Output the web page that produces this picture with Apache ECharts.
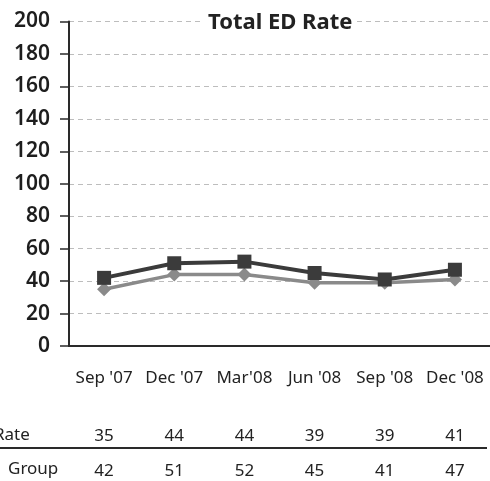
<!DOCTYPE html>
<html>
<head>
<meta charset="utf-8">
<script src="https://cdn.jsdelivr.net/npm/echarts@6/dist/echarts.min.js"></script>
<style>
  html, body { margin: 0; padding: 0; background: #fff; }
  #chart { width: 490px; height: 481px; }
</style>
</head>
<body>
<div id="chart"></div>
<script>
// Quarterly periods
const periods = ["Sep '07", "Dec '07", "Mar'08", "Jun '08", "Sep '08", "Dec '08"];
// Total ED rate (light diamonds)
const rateValues = [35, 44, 44, 39, 39, 41];
// Comparison group (dark squares)
const groupValues = [42, 51, 52, 45, 41, 47];
// Y axis range
const yMin = 0, yMax = 200, yStep = 20;

const FONT = "'Noto Sans', 'Open Sans', sans-serif";
const DARK = '#3b3b3b';
const LIGHT = '#8a8a8a';

const chart = echarts.init(document.getElementById('chart'), null, { renderer: 'canvas' });

// hidden category axis used to place one row of the data table under the plot
function tableAxis(values, offset) {
  return {
    type: 'category',
    data: periods,
    position: 'bottom',
    offset: offset,
    axisLine: { show: false },
    axisTick: { show: false },
    splitLine: { show: false },
    axisLabel: {
      interval: 0,
      margin: 0,
      fontFamily: FONT,
      fontSize: 17,
      lineHeight: 20,
      color: '#222'
      ,
      formatter: (v, i) => String(values[i])
    }
  };
}

chart.setOption({
  animation: false,
  backgroundColor: '#fff',
  title: {
    text: 'Total ED Rate',
    left: 204,
    top: 11,
    padding: [0, 4],
    backgroundColor: '#fff',
    textStyle: {
      fontFamily: FONT,
      fontSize: 22,
      fontWeight: 'bold',
      lineHeight: 24,
      color: '#222'
    }
  },
  grid: { left: 69, top: 21.5, width: 426, bottom: 133, containLabel: false },
  xAxis: [
    {
      type: 'category',
      data: periods,
      boundaryGap: true,
      axisLine: { lineStyle: { color: '#2a2a2a', width: 2 } },
      axisTick: { show: false },
      axisLabel: {
        interval: 0,
        margin: 22,
        fontFamily: FONT,
        fontSize: 17,
        lineHeight: 20,
        color: '#222'
      }
    },
    tableAxis(rateValues, 80),
    tableAxis(groupValues, 115)
  ],
  yAxis: {
    type: 'value',
    min: yMin,
    max: yMax,
    interval: yStep,
    axisLine: { show: true, lineStyle: { color: '#2a2a2a', width: 2 } },
    axisTick: { show: true, inside: false, length: 9, lineStyle: { color: '#2a2a2a', width: 1.5 } },
    axisLabel: {
      margin: 19,
      fontFamily: FONT,
      fontSize: 21,
      fontWeight: 600,
      color: '#1e1e1e'
    },
    splitLine: { lineStyle: { color: '#bdbdbd', type: [5, 4], width: 1 } }
  },
  series: [
    {
      name: 'Rate',
      type: 'line',
      data: rateValues,
      symbol: 'diamond',
      symbolSize: 14,
      color: LIGHT,
      lineStyle: { color: LIGHT, width: 3.5 },
      itemStyle: { color: LIGHT },
      z: 2
    },
    {
      name: 'Group',
      type: 'line',
      data: groupValues,
      symbol: 'rect',
      symbolSize: 14,
      color: DARK,
      lineStyle: { color: DARK, width: 4 },
      itemStyle: { color: DARK },
      z: 3
    }
  ],
  graphic: [
    {
      type: 'text', left: -6, top: 427,
      style: { text: 'Rate', fontFamily: FONT, fontSize: 17, fill: '#222' }
    },
    {
      type: 'text', left: 8, top: 461,
      style: { text: 'Group', fontFamily: FONT, fontSize: 17, fill: '#222' }
    },
    {
      type: 'line', shape: { x1: 0, y1: 448, x2: 487, y2: 448 },
      style: { stroke: '#2a2a2a', lineWidth: 2 }
    }
  ]
});
</script>
</body>
</html>
